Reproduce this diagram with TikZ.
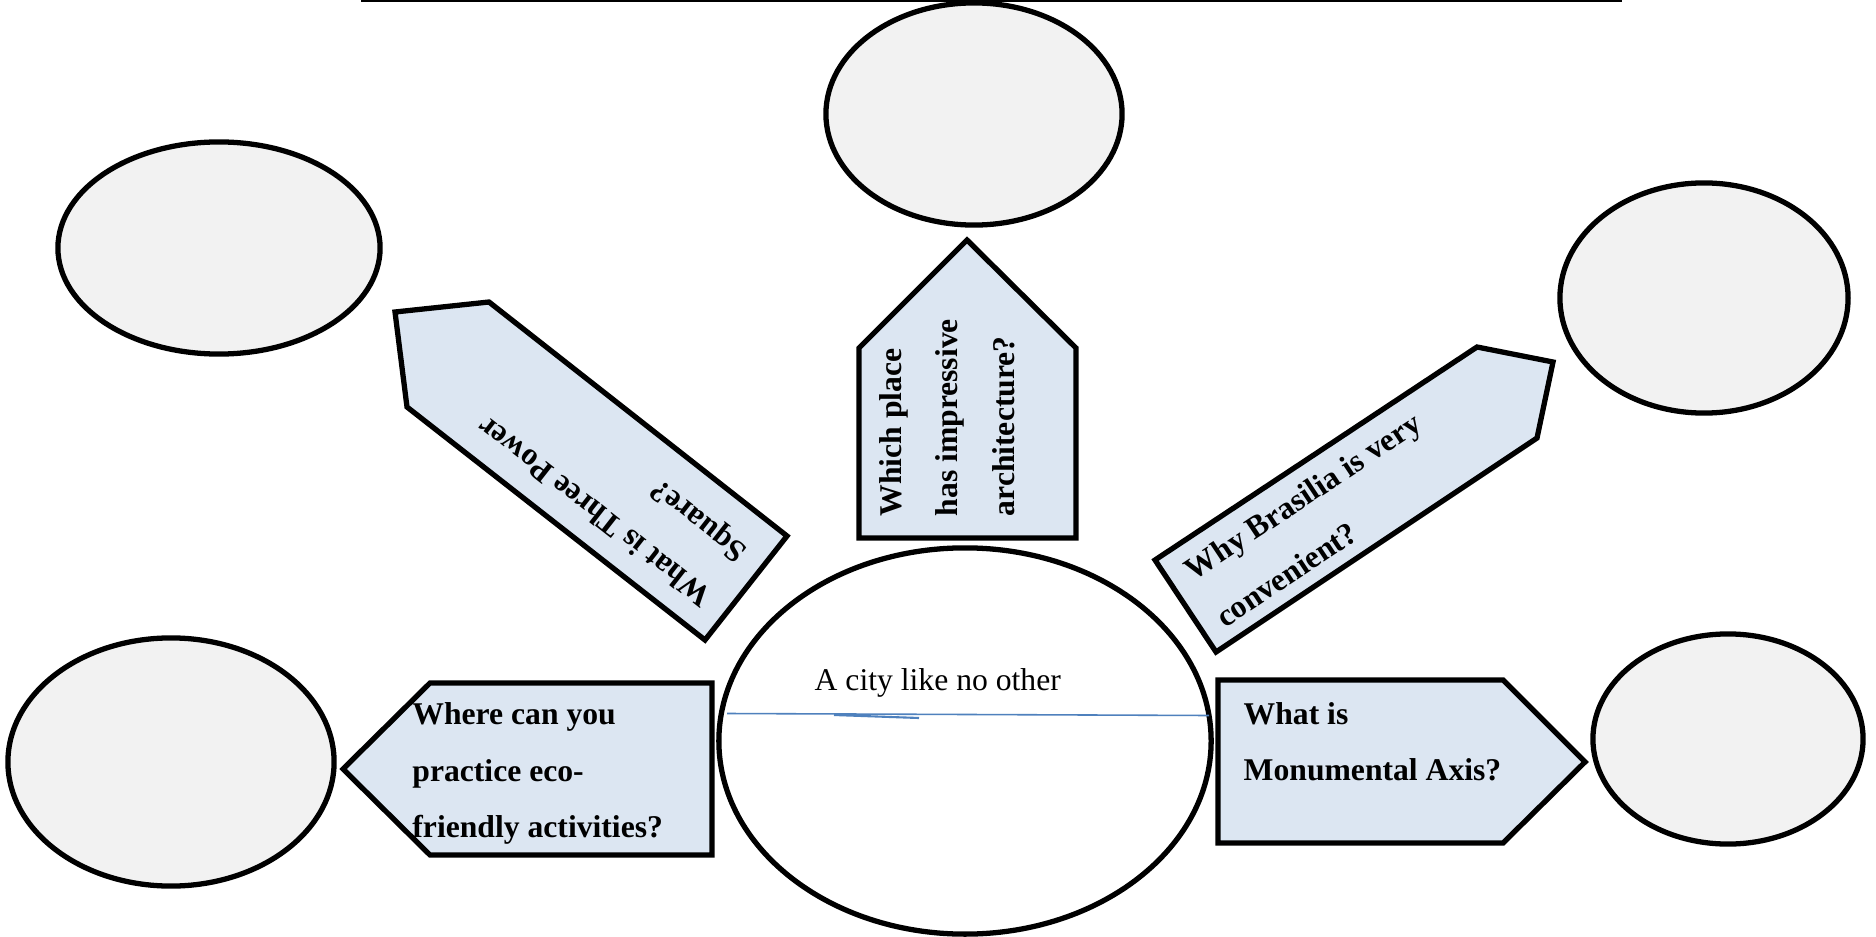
\documentclass[tikz,border=0pt]{standalone}
\usepackage{fontspec}
\setmainfont{Liberation Serif}
\usetikzlibrary{shapes.geometric}
\definecolor{arrowfill}{HTML}{DCE6F2}
\definecolor{ovalfill}{HTML}{F2F2F2}
\definecolor{lineblue}{HTML}{4F81BD}
\begin{document}
\begin{tikzpicture}[x=0.01cm,y=-0.01cm,
  oval/.style={ellipse, draw, line width=1.5pt, fill=ovalfill, inner sep=0pt},
  arrowbox/.style={draw, line width=1.5pt, fill=arrowfill, line join=miter},
  qtext/.style={font=\fontsize{9}{16}\selectfont\bfseries, align=left, inner sep=0pt, anchor=north west},
  ctextstyle/.style={font=\fontsize{9}{16}\selectfont, inner sep=0pt, anchor=base west},
  strayline/.style={draw=lineblue, line width=0.45pt}
]
\useasboundingbox (0,0) rectangle (1876,937);
\draw[line width=0.6pt] (361,1) -- (1622,1);

\node[oval, minimum width=2.96cm, minimum height=2.22cm] (otop) at (974,114) {};
\node[oval, minimum width=3.22cm, minimum height=2.12cm] (otl) at (219,248) {};
\node[oval, minimum width=2.88cm, minimum height=2.30cm] (otr) at (1704,298) {};
\node[oval, minimum width=3.26cm, minimum height=2.48cm] (obl) at (171,762) {};
\node[oval, minimum width=2.70cm, minimum height=2.10cm] (obr) at (1728,739) {};
\node[ellipse, draw, line width=1.5pt, fill=white, minimum width=4.92cm, minimum height=3.86cm, inner sep=0pt] (center) at (965,741) {};

% arrow shapes
\draw[arrowbox] (859,538) -- (859,348) -- (967,240) -- (1076,348) -- (1076,538) -- cycle;
\draw[arrowbox] (395,312) -- (489,302) -- (787,536) -- (705,640) -- (407,407) -- cycle;
\draw[arrowbox] (1155,560) -- (1477,347) -- (1553,362) -- (1537,438) -- (1216,652) -- cycle;
\draw[arrowbox] (343,769) -- (430,683) -- (712,683) -- (712,855) -- (430,855) -- cycle;
\draw[arrowbox] (1218,680) -- (1503,680) -- (1585,762) -- (1503,843) -- (1218,843) -- cycle;

% texts
\node[qtext, rotate=90] (qtop) at (861.6,517) {\strut Which place\\has impressive\\architecture?};
\node[qtext, rotate=141.9] (qtl) at (689.3,624.4) {\strut What is Three Power\\Square?};
\node[qtext, rotate=33.6] (qtr) at (1171.2,548.2) {\strut Why Brasilia is very\\convenient?};
\node[qtext] (qbl) at (411.7,684.9) {\strut Where can you\\practice eco-\\friendly activities?};
\node[qtext] (qbr) at (1243,684.6) {\strut What is\\Monumental Axis?};
\node[ctextstyle] (ctext) at (814,690) {A city like no other};

% stray blue lines
\draw[strayline] (727,713.5) -- (1209,715.5);
\draw[strayline, line width=0.6pt] (834,715) -- (919,718);
\end{tikzpicture}
\end{document}
